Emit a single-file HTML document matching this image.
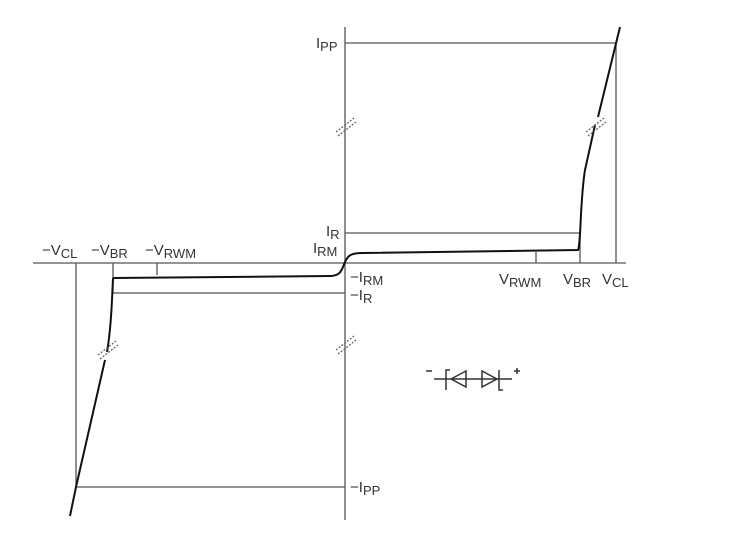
<!DOCTYPE html>
<html><head><style>
html,body{margin:0;padding:0;background:#fff;}
svg{display:block;}
text{font-family:"Liberation Sans",sans-serif;font-size:15px;fill:#333;}
.s{font-size:13px;}
</style></head><body>
<svg width="733" height="544" viewBox="0 0 733 544">
<g stroke="#555" stroke-width="1.3" fill="none">
<line x1="33" y1="263" x2="626" y2="263"/>
<line x1="345" y1="27" x2="345" y2="520"/>
<line x1="345" y1="43" x2="616" y2="43"/>
<line x1="616" y1="43" x2="616" y2="263"/>
<line x1="345" y1="233" x2="580" y2="233"/>
<line x1="580" y1="233" x2="580" y2="263"/>
<line x1="536" y1="252" x2="536" y2="263"/>
<line x1="76" y1="263" x2="76" y2="487"/>
<line x1="113" y1="263" x2="113" y2="293"/>
<line x1="157" y1="263" x2="157" y2="275"/>
<line x1="113" y1="293" x2="345" y2="293"/>
<line x1="76" y1="487" x2="345" y2="487"/>
</g>
<g stroke="#111" stroke-width="2" fill="none">
<path d="M113 278 L330 276 C342 276 342 268 345 262 C348 255 352 253 362 253 L578 250 C581 245 580 200 585 170 L595 125 M598 117 L620 27"/>
<path d="M113 278 L112 300 C111 320 110 335 107 352 M105 360 L76 487 L70 516"/>
</g>
<g stroke="#666" stroke-width="1.3" stroke-dasharray="2,1.5">
<line x1="336" y1="132" x2="354" y2="118"/><line x1="338" y1="136" x2="356" y2="122"/>
<line x1="336" y1="350" x2="354" y2="336"/><line x1="338" y1="354" x2="356" y2="340"/>
<line x1="586" y1="132" x2="604" y2="118"/><line x1="588" y1="136" x2="606" y2="122"/>
<line x1="98" y1="355" x2="116" y2="341"/><line x1="100" y1="359" x2="118" y2="345"/>
</g>
<text x="316" y="48">I<tspan class="s" dy="3">PP</tspan></text>
<text x="326" y="236">I<tspan class="s" dy="3">R</tspan></text>
<text x="313" y="253">I<tspan class="s" dy="3">RM</tspan></text>
<text x="350" y="282">−I<tspan class="s" dy="3">RM</tspan></text>
<text x="350" y="300">−I<tspan class="s" dy="3">R</tspan></text>
<text x="350" y="492">−I<tspan class="s" dy="3">PP</tspan></text>
<text x="499" y="284">V<tspan class="s" dy="3">RWM</tspan></text>
<text x="563" y="284">V<tspan class="s" dy="3">BR</tspan></text>
<text x="602" y="284">V<tspan class="s" dy="3">CL</tspan></text>
<text x="42" y="255">−V<tspan class="s" dy="3">CL</tspan></text>
<text x="91" y="255">−V<tspan class="s" dy="3">BR</tspan></text>
<text x="145" y="255">−V<tspan class="s" dy="3">RWM</tspan></text>
<g stroke="#333" stroke-width="1.5" fill="none">
<line x1="434" y1="379" x2="512" y2="379"/>
<path d="M450 370 L446 370 L446 390"/>
<path d="M466 371 L451 379 L466 387 Z"/>
<path d="M482 371 L497 379 L482 387 Z"/>
<path d="M499 370 L499 390 L503 390"/>
<line x1="426" y1="371" x2="432" y2="371"/>
<line x1="514" y1="371" x2="520" y2="371"/><line x1="517" y1="368" x2="517" y2="374"/>
</g>
</svg>
</body></html>
